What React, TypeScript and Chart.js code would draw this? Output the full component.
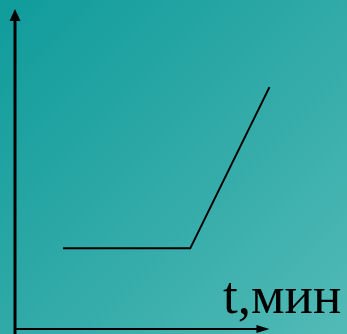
import React, { useEffect, useRef } from "react";
import { Chart, registerables } from "chart.js";

Chart.register(...registerables);

// Time (minutes) and the measured quantity at each break point of the curve
const times = [2, 7.3, 10.6];
const values = [20, 20, 60];

// Axis extents in data units
const xMax = 13.83;
const yMax = 81.6;

const axisLabel = "t,мин";

const axesPlugin = {
  id: "arrowAxes",
  afterDraw(chart: Chart) {
    const { ctx, chartArea, height } = chart;
    const ox = chartArea.left;
    const oy = chartArea.bottom;
    ctx.save();
    ctx.fillStyle = "#000";
    ctx.strokeStyle = "#000";

    // vertical axis with arrow
    ctx.lineWidth = 3;
    ctx.beginPath();
    ctx.moveTo(ox, height);
    ctx.lineTo(ox, 18);
    ctx.stroke();
    ctx.beginPath();
    ctx.moveTo(ox, 9);
    ctx.lineTo(ox - 5.5, 21);
    ctx.lineTo(ox + 5.5, 21);
    ctx.closePath();
    ctx.fill();

    // horizontal axis with arrow
    const tipX = chart.scales.x.getPixelForValue(10.6);
    ctx.lineWidth = 2;
    ctx.beginPath();
    ctx.moveTo(ox - 1, oy);
    ctx.lineTo(tipX - 8, oy);
    ctx.stroke();
    ctx.beginPath();
    ctx.moveTo(tipX, oy);
    ctx.lineTo(tipX - 13, oy - 4);
    ctx.lineTo(tipX - 13, oy + 4);
    ctx.closePath();
    ctx.fill();

    // axis caption
    ctx.font = '53px "Liberation Serif", "Times New Roman", serif';
    ctx.textAlign = "left";
    ctx.textBaseline = "alphabetic";
    ctx.fillText(axisLabel, 223, 313);
    ctx.restore();
  },
};

export default function App() {
  const canvasRef = useRef<HTMLCanvasElement | null>(null);

  useEffect(() => {
    document.body.style.margin = "0";
    const canvas = canvasRef.current;
    if (!canvas) return;
    const chart = new Chart(canvas, {
      type: "line",
      data: {
        datasets: [
          {
            data: times.map((t, i) => ({ x: t, y: values[i] })),
            borderColor: "#000",
            borderWidth: 2,
            pointRadius: 0,
            tension: 0,
            fill: false,
          },
        ],
      },
      options: {
        animation: false,
        responsive: false,
        maintainAspectRatio: false,
        layout: { padding: { left: 15, bottom: 5, top: 0, right: 0 } },
        plugins: { legend: { display: false }, tooltip: { enabled: false } },
        scales: {
          x: { type: "linear", min: 0, max: xMax, display: false },
          y: { type: "linear", min: 0, max: yMax, display: false },
        },
      },
      plugins: [axesPlugin],
    });
    return () => chart.destroy();
  }, []);

  return (
    <div
      style={{
        position: "fixed",
        left: 0,
        top: 0,
        width: 347,
        height: 334,
        background: "linear-gradient(135deg, #0f9c9b 0%, #33aba9 55%, #52bab6 100%)",
      }}
    >
      <canvas ref={canvasRef} width={347} height={334} style={{ display: "block" }} />
    </div>
  );
}
